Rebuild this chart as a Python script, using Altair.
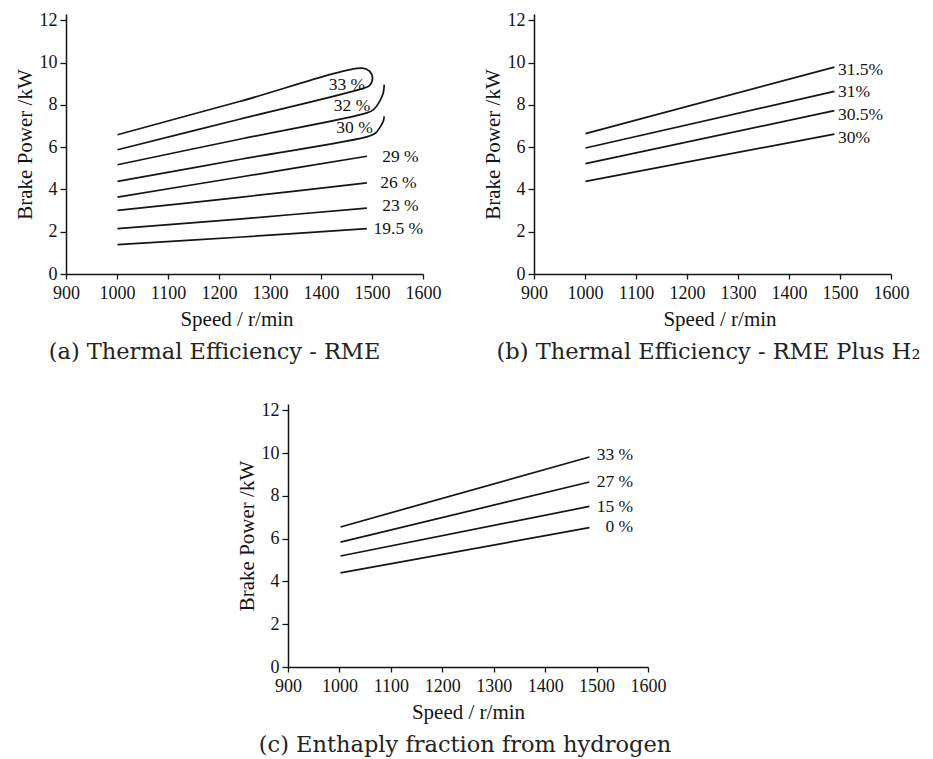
import altair as alt
import pandas as pd

# ---------------- data ----------------
# Panel (a): Thermal efficiency - RME  (contours, one path each; order gives drawing sequence)
a_series = {
    "33": {"x": [1001, 1240, 1481, 1495, 1501, 1495, 1481, 1240, 1001],
           "y": [6.59, 8.16, 9.74, 9.60, 9.26, 8.91, 8.77, 7.32, 5.88]},
    "32": {"x": [1001, 1245, 1490, 1503, 1515, 1522, 1524],
           "y": [5.17, 6.40, 7.62, 7.78, 8.17, 8.56, 8.96]},
    "30": {"x": [1001, 1245, 1493, 1507, 1516, 1522, 1524],
           "y": [4.38, 5.44, 6.51, 6.67, 6.95, 7.22, 7.46]},
    "29": {"x": [1001, 1245, 1490], "y": [3.64, 4.60, 5.57]},
    "26": {"x": [1001, 1245, 1490], "y": [3.01, 3.64, 4.31]},
    "23": {"x": [1001, 1245, 1490], "y": [2.15, 2.61, 3.12]},
    "19.5": {"x": [1001, 1245, 1490], "y": [1.39, 1.75, 2.15]},
}
a_label_text = ["33 %", "32 %", "30 %", "29 %", "26 %", "23 %", "19.5 %"]
a_label_x = [1415, 1425, 1430, 1520, 1516, 1520, 1503]
a_label_y = [8.96, 7.93, 6.91, 5.54, 4.31, 3.20, 2.13]

# Panel (b): Thermal efficiency - RME plus H2
b_names = ["31.5", "31", "30.5", "30"]
b_start_x, b_end_x = 1001, 1489
b_start_y = [6.64, 5.96, 5.22, 4.38]
b_end_y = [9.79, 8.64, 7.73, 6.62]
b_label_text = ["31.5%", "31%", "30.5%", "30%"]
b_label_x = [1496, 1496, 1496, 1496]
b_label_y = [9.67, 8.61, 7.54, 6.43]

# Panel (c): Enthalpy fraction from hydrogen
c_names = ["33", "27", "15", "0"]
c_start_x, c_end_x = 1002, 1486
c_start_y = [6.55, 5.84, 5.19, 4.40]
c_end_y = [9.82, 8.65, 7.51, 6.52]
c_label_text = ["33 %", "27 %", "15 %", "0 %"]
c_label_x = [1571, 1571, 1571, 1571]
c_label_y = [9.90, 8.65, 7.48, 6.55]

x_ticks = [900, 1000, 1100, 1200, 1300, 1400, 1500, 1600]
y_ticks = [0, 2, 4, 6, 8, 10, 12]

# ---------------- tables ----------------
rows = []
for name, d in a_series.items():
    for i, (xv, yv) in enumerate(zip(d["x"], d["y"])):
        rows.append({"series": name, "order": i, "speed": xv, "power": yv})
df_a = pd.DataFrame(rows)
df_a_lab = pd.DataFrame({"speed": a_label_x, "power": a_label_y, "label": a_label_text})

rows = []
for n, sy, ey in zip(b_names, b_start_y, b_end_y):
    rows.append({"series": n, "order": 0, "speed": b_start_x, "power": sy})
    rows.append({"series": n, "order": 1, "speed": b_end_x, "power": ey})
df_b = pd.DataFrame(rows)
df_b_lab = pd.DataFrame({"speed": b_label_x, "power": b_label_y, "label": b_label_text})

rows = []
for n, sy, ey in zip(c_names, c_start_y, c_end_y):
    rows.append({"series": n, "order": 0, "speed": c_start_x, "power": sy})
    rows.append({"series": n, "order": 1, "speed": c_end_x, "power": ey})
df_c = pd.DataFrame(rows)
df_c_lab = pd.DataFrame({"speed": c_label_x, "power": c_label_y, "label": c_label_text})

SERIF = "Liberation Serif"
CAP_FONT = "DejaVu Serif"
INK = "#141414"


def panel(df_lines, df_lab, align, caption, cap_dx, w, h, xtitle_shift, interp):
    xs = alt.Scale(domain=[900, 1600], nice=False, zero=False)
    ys = alt.Scale(domain=[0, 12.3], nice=False)
    xax = alt.Axis(values=x_ticks, format="d", title="Speed / r/min", tickSize=5,
                   labelPadding=5, titlePadding=6, titleX=w / 2 + xtitle_shift)
    yax = alt.Axis(values=y_ticks, format="d", title="Brake Power /kW", tickSize=6,
                   labelPadding=3, titlePadding=4)
    lines = alt.Chart(df_lines).mark_line(
        color=INK, strokeWidth=1.7, interpolate=interp
    ).encode(
        x=alt.X("speed:Q", scale=xs, axis=xax),
        y=alt.Y("power:Q", scale=ys, axis=yax),
        detail="series:N",
        order="order:Q",
    )
    labels = alt.Chart(df_lab).mark_text(
        font=SERIF, fontSize=17.5, color=INK, align=align, baseline="middle"
    ).encode(
        x=alt.X("speed:Q", scale=xs),
        y=alt.Y("power:Q", scale=ys),
        text="label:N",
    )
    return alt.layer(lines, labels).properties(
        width=w, height=h,
        title=alt.TitleParams(caption, orient="bottom", anchor="middle", frame="group",
                              font=CAP_FONT, fontSize=22.5, fontWeight="normal",
                              color="#222222", offset=12, dx=cap_dx),
    )


chart_a = panel(df_a, df_a_lab, "left", "(a) Thermal Efficiency - RME", -30, 357, 260, -8,
                "catmull-rom")
chart_b = panel(df_b, df_b_lab, "left", "(b) Thermal Efficiency - RME Plus H\u2082", -4, 357, 260, 7,
                "linear")
chart_c = panel(df_c, df_c_lab, "right", "(c) Enthaply fraction from hydrogen", -3, 360, 263, 0,
                "linear")

spacer = alt.Chart(pd.DataFrame({"v": [0]})).mark_point(opacity=0).encode(
    x=alt.X("v:Q", axis=None), y=alt.Y("v:Q", axis=None)
).properties(width=10, height=10)

top = alt.hconcat(chart_a, chart_b, spacing=39)
bottom = alt.hconcat(spacer, chart_c, spacing=158)
chart = alt.vconcat(top, bottom, spacing=36).properties(
    padding={"left": 5, "top": 2, "right": 0, "bottom": 0}
).configure_view(stroke="transparent").configure_axis(
    grid=False,
    domainColor=INK, domainWidth=1.5, tickColor=INK, tickWidth=1.3,
    labelColor=INK, titleColor=INK,
    labelFont=SERIF, labelFontSize=18, titleFont=SERIF, titleFontSize=21,
    titleFontWeight="normal", labelFlush=False, labelOverlap=False,
).configure_concat(spacing=0)

chart.save("out.html", embed_options={"renderer": "svg", "actions": False})
